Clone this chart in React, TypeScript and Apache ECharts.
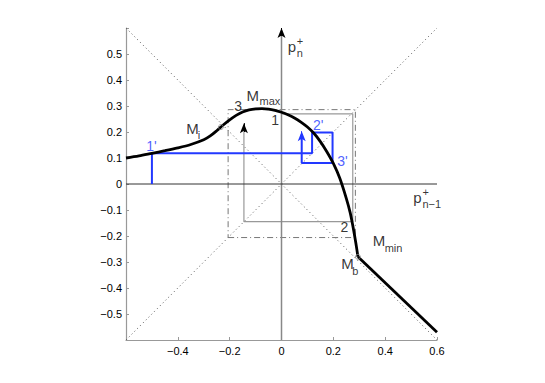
import React, { useEffect, useRef } from 'react';
import * as echarts from 'echarts';

// ---- data ----
const curveUpper: number[][] = [
  [-0.6, 0.100], [-0.55, 0.108], [-0.5, 0.118], [-0.45, 0.128], [-0.4, 0.139],
  [-0.35, 0.152], [-0.3, 0.170], [-0.275, 0.185], [-0.25, 0.205], [-0.225, 0.227],
  [-0.2, 0.247], [-0.175, 0.264], [-0.15, 0.277], [-0.125, 0.285], [-0.1, 0.289],
  [-0.075, 0.290], [-0.05, 0.288], [-0.025, 0.283], [0, 0.276], [0.025, 0.266],
  [0.05, 0.254], [0.075, 0.238], [0.1, 0.219], [0.125, 0.195], [0.15, 0.163],
  [0.175, 0.124], [0.2, 0.079], [0.225, 0.022], [0.25, -0.055], [0.265, -0.110],
  [0.277, -0.170], [0.287, -0.228], [0.295, -0.280],
];
const curveLower: number[][] = [[0.295, -0.280], [0.6, -0.57]];
const specialPoints: number[][] = [[-0.234, 0.219], [0.295, -0.280]];
const diagUp: number[][] = [[-0.6, -0.6], [0.6, 0.6]];
const diagDown: number[][] = [[-0.6, 0.6], [0.6, -0.6]];
const dashSquare: number[][] = [[-0.206, -0.206], [0.285, -0.206], [0.285, 0.286], [-0.206, 0.286], [-0.206, -0.206]];
const grayPath: number[][] = [[0, 0.27], [0.275, 0.27], [0.275, -0.145], [-0.145, -0.145], [-0.145, 0.215]];
const grayArrow: number[][] = [[-0.145, 0.2], [-0.145, 0.234]];
const bluePath: number[][] = [[-0.5, 0], [-0.5, 0.118], [0.118, 0.118], [0.118, 0.198], [0.197, 0.198], [0.197, 0.081], [0.078, 0.081], [0.078, 0.19]];
const blueArrow: number[][] = [[0.078, 0.18], [0.078, 0.203]];
const vAxisLine: number[][] = [[0, -0.6], [0, 0.59]];
const vAxisArrow: number[][] = [[0, 0.57], [0, 0.6]];
const hAxisLine: number[][] = [[-0.6, 0], [0.6, 0]];
const hAxisArrow: number[][] = [[0.58, 0], [0.608, 0]];

// annotation texts: [text, x, y, kind]
const annotations: [string, number, number, string][] = [
  ['M', -0.133, 0.338, 'big'], ['max', -0.083, 0.319, 'sub'],
  ['M', -0.366, 0.213, 'big'], ['i', -0.321, 0.187, 'sub'],
  ['M', 0.354, -0.218, 'big'], ['min', 0.4, -0.247, 'sub'],
  ['M', 0.232, -0.307, 'big'], ['b', 0.275, -0.338, 'sub'],
  ['1', -0.038, 0.244, 'num'], ['2', 0.23, -0.168, 'num'], ['3', -0.18, 0.297, 'num'],
  ["1'", -0.52, 0.146, 'blue'], ["2'", 0.123, 0.224, 'blue'], ["3'", 0.217, 0.086, 'blue'],
  ['p', 0.026, 0.527, 'big'], ['+', 0.061, 0.549, 'sub'], ['n', 0.061, 0.502, 'sub'],
  ['p', 0.51, -0.054, 'big'], ['+', 0.546, -0.031, 'sub'], ['n\u22121', 0.546, -0.077, 'sub'],
];

const FONT = "'Liberation Sans', Arial, Helvetica, sans-serif";
const BLUE = '#2238ff';

function fmt(v: number, hideMax: boolean): string {
  if (Math.abs(v + 0.6) < 1e-6) return '';
  if (hideMax && Math.abs(v - 0.6) < 1e-6) return '';
  if (Math.abs(v) < 1e-9) return '0';
  const s = String(Number(v.toFixed(1)));
  return s.replace('-', '\u2212');
}

function arrowMark(seg: number[][], color: string, size: number[]) {
  return {
    silent: true,
    symbol: ['none', 'arrow'],
    symbolSize: size,
    label: { show: false },
    lineStyle: { color, width: 1, type: 'solid' },
    emphasis: { disabled: true },
    data: [[{ coord: seg[0] }, { coord: seg[1] }]],
  };
}

function lineSeries(data: number[][], color: string, width: number, type: any, z: number, extra: any = {}) {
  return {
    type: 'line',
    data,
    symbol: 'none',
    silent: true,
    z,
    lineStyle: { color, width, type },
    emphasis: { disabled: true },
    ...extra,
  };
}

export default function App() {
  const ref = useRef<HTMLDivElement>(null);
  useEffect(() => {
    if (!ref.current) return;
    const chart = echarts.init(ref.current, undefined, { renderer: 'svg' });
    const styles: Record<string, any> = {
      big: { fontSize: 15, color: '#000' },
      sub: { fontSize: 11, color: '#000' },
      num: { fontSize: 14, color: '#000' },
      blue: { fontSize: 14, color: BLUE },
    };
    chart.setOption({
      animation: false,
      backgroundColor: '#fff',
      grid: { left: 126, right: 108, top: 28, bottom: 43, containLabel: false },
      xAxis: {
        type: 'value', min: -0.6, max: 0.6, interval: 0.2,
        splitLine: { show: false },
        axisLine: { show: true, onZero: false, lineStyle: { color: '#999', width: 1.2 } },
        axisTick: { show: true, inside: true, length: 3, lineStyle: { color: '#999' } },
        axisLabel: { color: '#000', fontSize: 11, fontFamily: FONT, margin: 5, formatter: (v: number) => fmt(v, false) },
      },
      yAxis: {
        type: 'value', min: -0.6, max: 0.6, interval: 0.1,
        splitLine: { show: false },
        axisLine: { show: true, onZero: false, lineStyle: { color: '#999', width: 1.2 } },
        axisTick: { show: true, inside: true, length: 3, lineStyle: { color: '#999' } },
        axisLabel: { color: '#000', fontSize: 11, fontFamily: FONT, margin: 4, formatter: (v: number) => fmt(v, true) },
      },
      series: [
        lineSeries(diagUp, '#555', 1, [1, 3], 1),
        lineSeries(diagDown, '#555', 1, [1, 3], 1),
        lineSeries(dashSquare, '#777', 1, [6, 3, 1, 3], 2),
        lineSeries(grayPath, '#999', 1.2, 'solid', 2, { markLine: arrowMark(grayArrow, '#000', [6, 10]) }),
        lineSeries(vAxisLine, '#888', 1.5, 'solid', 3, { markLine: arrowMark(vAxisArrow, '#000', [6, 10]) }),
        lineSeries(hAxisLine, '#333', 1, 'solid', 3, { markLine: arrowMark(hAxisArrow, '#000', [6, 10]) }),
        lineSeries(bluePath, BLUE, 2, 'solid', 4, { markLine: arrowMark(blueArrow, BLUE, [6, 10]) }),
        lineSeries(curveUpper, '#000', 2.8, 'solid', 5, { smooth: 0.3 }),
        lineSeries(curveLower, '#000', 2.8, 'solid', 5),
        {
          type: 'scatter', data: specialPoints, symbol: 'circle', symbolSize: 5, z: 6, silent: true,
          itemStyle: { color: 'rgba(255,255,255,0)', borderColor: '#888', borderWidth: 1 },
        },
        {
          type: 'scatter', z: 7, silent: true, symbol: 'circle', symbolSize: 1,
          itemStyle: { color: 'rgba(0,0,0,0)' },
          data: annotations.map(([t, x, y, k]) => ({
            value: [x, y],
            label: {
              show: true, formatter: t, position: [0, 0], align: 'left', verticalAlign: 'middle',
              fontFamily: FONT, ...styles[k],
            },
          })),
        },
      ],
    });
    return () => chart.dispose();
  }, []);
  return <div ref={ref} style={{ position: 'fixed', left: 0, top: 0, width: 545, height: 383, background: '#fff' }} />;
}
